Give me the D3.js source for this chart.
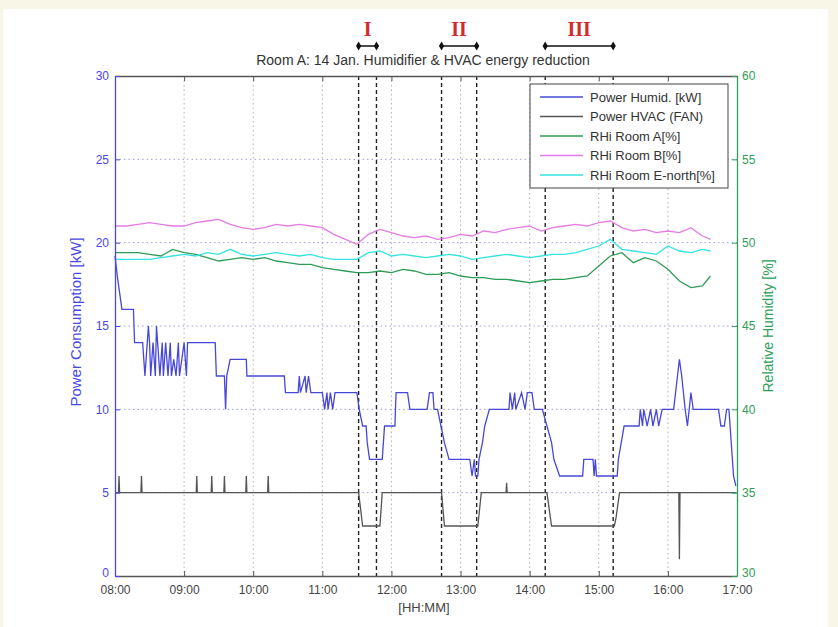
<!DOCTYPE html>
<html>
<head>
<meta charset="utf-8">
<script src="https://cdnjs.cloudflare.com/ajax/libs/d3/7.8.5/d3.min.js"></script>
<style>
  body { margin: 0; background: #f8f6e6; }
  svg { display: block; font-family: "Liberation Sans", Arial, sans-serif; }
</style>
</head>
<body>
<svg id="chart"></svg>
<script>
// time is minutes after 08:00
var hourTicks = [0, 60, 120, 180, 240, 300, 360, 420, 480, 540];
var kwTicks = [0, 5, 10, 15, 20, 25, 30];
var rhTicks = [30, 35, 40, 45, 50, 55, 60];

// Power Humid. [kW]
var powerHumid = [[0,19.2],[2,18],[4,17],[6,16],[16,16],[16.5,15],[17,14],[24,14],[26,12],[28,14],[29,15],[30,14],
  [31,12],[33,14],[35,12],[36,15],[37,14],[39,12],[41,14],[42,12],[44,14],[46,12],[48,14],[49,12],[51,13],[53,12],
  [55,14],[56,12],[58,13],[60,14],[62,12],[63,14],[65,14],[87,14],[88,12],[95,12],[96,10],[97,12],[100,13],[114,13],
  [114.5,12],[147,12],[148,11],[159,11],[160,12],[161,11],[165,12],[166,11],[168,12],[170,11],[180,11],[182,10],
  [184,11],[185,10],[187,11],[189,10],[191,11],[210,11],[212,10],[215,9],[218,9],[219,8],[221,7],[232,7],[234,9],
  [243,9],[244,11],[254,11],[256,10],[271,10],[273,11],[276,11],[277,10],[280,10],[283,9],[286,8],[290,7],[308,7],
  [310,6],[312,7],[313,6],[315,6],[316,7],[319,8],[321,9],[325,10],[342,10],[343,11],[345,10],[347,11],[348,10],
  [353,11],[356,10],[358,11],[362,11],[364,10],[371,10],[375,9],[379,8],[381,7],[386,6],[406,6],[407,7],[415,7],
  [416,6],[417,7],[418,6],[436,6],[437,7],[442,9],[455,9],[456,10],[458,9],[459,10],[462,9],[465,10],[467,9],
  [470,10],[472,9],[475,10],[485,10],[490,13],[492,12],[495,10],[497,9],[500,11],[502,10],[524,10],[526,9],
  [529,9],[531,10],[533,10],[537,6],[539,5.4]];

// Power HVAC (FAN)
var powerHvac = [[0,5],[3,5],[3.5,6],[4,5],[22.5,5],[23,6],[23.5,5],[70.5,5],[71,6],[71.5,5],[83.5,5],[84,6],
  [84.5,5],[94.5,5],[95,6],[95.5,5],[113.5,5],[114,6],[114.5,5],[132.5,5],[133,6],[133.5,5],[211.5,5],[215,3],
  [230,3],[232,5],[283.5,5],[286,3],[315,3],[318,5],[339.5,5],[340,5.6],[340.5,5],[375,5],[379,3],[433.5,3],
  [435,3.5],[438,5],[489.5,5],[490,1],[490.5,5],[539,5]];

// relative humidity samples
var rhTime = [0,10,20,30,40,50,60,70,80,90,100,110,120,130,140,150,160,170,180,190,200,210,220,230,240,250,
  260,270,280,290,300,310,320,330,340,350,360,370,380,390,400,410,420,430,440,450,460,470,480,490,500,510,517];
var rhRoomA = [49.4,49.4,49.4,49.3,49.2,49.6,49.4,49.3,49.1,48.9,49.0,49.1,49.0,49.1,48.9,48.8,48.7,48.7,48.5,
  48.4,48.3,48.2,48.2,48.3,48.2,48.4,48.3,48.1,48.1,48.2,48.0,47.9,47.9,47.8,47.8,47.7,47.6,47.7,47.8,47.8,47.9,
  48.0,48.6,49.2,49.4,48.8,49.1,48.9,48.4,47.7,47.3,47.4,48.0];
var rhRoomB = [51.0,51.0,51.1,51.2,51.1,51.0,51.0,51.2,51.3,51.4,51.1,50.9,50.8,50.9,51.1,51.0,51.1,51.0,50.9,
  50.5,50.2,49.9,50.5,50.8,50.6,50.4,50.3,50.4,50.2,50.3,50.5,50.4,50.7,50.6,50.8,50.9,51.0,50.7,50.9,51.0,51.1,
  51.0,51.2,51.3,50.9,50.7,50.8,50.6,50.7,50.6,50.9,50.4,50.2];
var rhRoomE = [49.0,49.0,49.0,49.0,49.1,49.2,49.3,49.2,49.4,49.3,49.6,49.3,49.2,49.3,49.4,49.3,49.2,49.3,49.1,
  49.0,49.0,49.0,49.4,49.5,49.2,49.3,49.2,49.1,49.2,49.3,49.2,49.0,49.1,49.2,49.3,49.2,49.1,49.2,49.3,49.3,49.4,
  49.6,49.8,50.2,49.6,49.5,49.4,49.3,49.8,49.5,49.4,49.6,49.5];

// reduction phases (start, end)
var phaseNames = ["I", "II", "III"];
var phaseStart = [211.5, 283.5, 373.5];
var phaseEnd = [227, 314, 432.5];

var legendNames = ["Power Humid. [kW]", "Power HVAC (FAN)", "RHi Room A[%]", "RHi Room B[%]", "RHi Room E-north[%]"];
var colors = ["#4848d8", "#555555", "#2f9c55", "#e57ce5", "#35e3e3"];

var W = 838, H = 627;
var pL = 115, pR = 737, pT = 76, pB = 576;

var svg = d3.select("#chart").attr("width", W).attr("height", H);
svg.append("rect").attr("x", 3).attr("y", 9).attr("width", 825).attr("height", 618).attr("fill", "#fff");

var x = d3.scaleLinear().domain([0, 540]).range([pL, pR]);
var yL = d3.scaleLinear().domain([0, 30]).range([pB, pT]);
var yR = d3.scaleLinear().domain([30, 60]).range([pB, pT]);

function hhmm(m) {
  var h = 8 + Math.floor(m / 60), mm = m % 60;
  return (h < 10 ? "0" : "") + h + ":" + (mm < 10 ? "0" : "") + mm;
}

// grid
svg.append("g").selectAll("line").data(hourTicks.slice(1, -1)).join("line")
  .attr("x1", d => x(d)).attr("x2", d => x(d)).attr("y1", pT).attr("y2", pB)
  .attr("stroke", "#b0b0b0").attr("stroke-width", 1).attr("stroke-dasharray", "1.5,3");
svg.append("g").selectAll("line").data(kwTicks.slice(1, -1)).join("line")
  .attr("x1", pL).attr("x2", pR).attr("y1", d => yL(d)).attr("y2", d => yL(d))
  .attr("stroke", "#9c9cee").attr("stroke-width", 1).attr("stroke-dasharray", "1.5,3");

// phase boundaries
var bounds = phaseStart.concat(phaseEnd);
svg.append("g").selectAll("line").data(bounds).join("line")
  .attr("x1", d => x(d)).attr("x2", d => x(d)).attr("y1", pT).attr("y2", pB)
  .attr("stroke", "#222").attr("stroke-width", 1.4).attr("stroke-dasharray", "4,3");

// lines
var lineKW = d3.line().x(d => x(d[0])).y(d => yL(d[1]));
svg.append("path").datum(powerHumid).attr("d", lineKW)
  .attr("fill", "none").attr("stroke", colors[0]).attr("stroke-width", 1.3);
svg.append("path").datum(powerHvac).attr("d", lineKW)
  .attr("fill", "none").attr("stroke", colors[1]).attr("stroke-width", 1.3);

var lineRH = d3.line().x((d, i) => x(rhTime[i])).y(d => yR(d));
[rhRoomA, rhRoomB, rhRoomE].forEach((s, i) => {
  svg.append("path").datum(s).attr("d", lineRH)
    .attr("fill", "none").attr("stroke", colors[i + 2]).attr("stroke-width", 1.3);
});

// axes
var bottomAxis = svg.append("g").attr("transform", `translate(0,${pB})`)
  .call(d3.axisBottom(x).tickValues(hourTicks).tickFormat(hhmm).tickSizeInner(-5).tickSizeOuter(0).tickPadding(9));
var topAxis = svg.append("g").attr("transform", `translate(0,${pT})`)
  .call(d3.axisTop(x).tickValues(hourTicks).tickFormat("").tickSizeInner(-5).tickSizeOuter(0));
var leftAxis = svg.append("g").attr("transform", `translate(${pL},0)`)
  .call(d3.axisLeft(yL).tickValues(kwTicks).tickSizeInner(-5).tickSizeOuter(0).tickPadding(6));
var rightAxis = svg.append("g").attr("transform", `translate(${pR},0)`)
  .call(d3.axisRight(yR).tickValues(rhTicks).tickSizeInner(-5).tickSizeOuter(0).tickPadding(5));

[[bottomAxis, "#555", "#444"], [topAxis, "#555", "#444"], [leftAxis, "#4848e8", "#4848e8"], [rightAxis, "#2e9e58", "#2e9e58"]]
  .forEach(a => {
    a[0].select(".domain").attr("stroke", a[1]).attr("stroke-width", 1.3);
    a[0].selectAll(".tick line").attr("stroke", a[1]);
    a[0].selectAll(".tick text").attr("fill", a[2]).attr("font-size", 12)
      .attr("font-family", "Liberation Sans, Arial, sans-serif");
  });
// lowest y labels sit a little higher so they clear the time labels
leftAxis.selectAll(".tick text").filter(d => d === 0).attr("dy", "0.0em");
rightAxis.selectAll(".tick text").filter(d => d === 30).attr("dy", "0.0em");

// axis labels
svg.append("text").attr("transform", `translate(81,${(pT + pB) / 2 - 4}) rotate(-90)`)
  .attr("text-anchor", "middle").attr("font-size", 15).attr("fill", "#4848e8").text("Power Consumption [kW]");
svg.append("text").attr("transform", `translate(773,${(pT + pB) / 2}) rotate(-90)`)
  .attr("text-anchor", "middle").attr("font-size", 14).attr("fill", "#2e9e58").text("Relative Humidity [%]");
svg.append("text").attr("x", 424).attr("y", 612)
  .attr("text-anchor", "middle").attr("font-size", 13).attr("fill", "#444").text("[HH:MM]");

// title
svg.append("text").attr("x", 423).attr("y", 65).attr("text-anchor", "middle")
  .attr("font-size", 14).attr("fill", "#333").text("Room A: 14 Jan. Humidifier & HVAC energy reduction");

// phase annotations
var ph = svg.append("g");
phaseNames.forEach((n, i) => {
  var a = x(phaseStart[i]), b = x(phaseEnd[i]);
  ph.append("line").attr("x1", a).attr("x2", b).attr("y1", 46).attr("y2", 46)
    .attr("stroke", "#111").attr("stroke-width", 1.5);
  [a, b].forEach(p => {
    ph.append("path").attr("d", d3.symbol(d3.symbolDiamond, 24)())
      .attr("transform", `translate(${p},46)`).attr("fill", "#111");
  });
  ph.append("text").attr("x", (a + b) / 2).attr("y", 36).attr("text-anchor", "middle")
    .attr("font-family", "Liberation Serif, serif").attr("font-weight", "bold")
    .attr("font-size", 20).attr("fill", "#d42a2a").text(n);
});

// legend
var lg = svg.append("g");
lg.append("rect").attr("x", 530).attr("y", 84).attr("width", 198).attr("height", 104)
  .attr("fill", "#fff").attr("stroke", "#444").attr("stroke-width", 1);
legendNames.forEach((n, i) => {
  var yy = 97 + i * 19.5;
  lg.append("line").attr("x1", 540).attr("x2", 583).attr("y1", yy).attr("y2", yy)
    .attr("stroke", colors[i]).attr("stroke-width", 1.3);
  lg.append("text").attr("x", 590).attr("y", yy + 4.5).attr("font-size", 13).attr("fill", "#333").text(n);
});
</script>
</body>
</html>
